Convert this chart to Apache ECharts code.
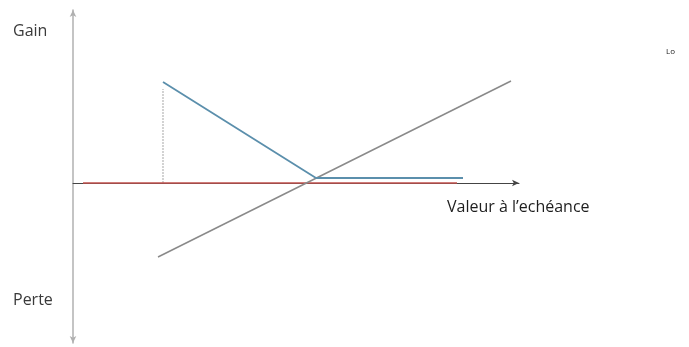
<!DOCTYPE html>
<html><head><meta charset="utf-8">
<script src="https://cdn.jsdelivr.net/npm/echarts@6/dist/echarts.min.js"></script>
<style>html,body{margin:0;padding:0;background:#fff}#c{width:689px;height:347px}</style>
</head><body><div id="c"></div>
<script>
// Schematic payoff diagram (values in abstract units)
var xRange = [0, 446];
var yRange = [-160, 173];
var zeroLineX = [10, 384];
var zeroLineY = [0, 0];
var payoffAX = [90, 243, 390];
var payoffAY = [101, 5, 5];
var payoffBX = [85, 438];
var payoffBY = [-74, 102];
var guideX = [90, 90];
var guideY = [0, 94];
var labels = { gain: 'Gain', loss: 'Perte', xName: 'Valeur à l’echéance', legend: 'Lo' };

function pts(xs, ys) { return xs.map(function (x, i) { return [x, ys[i]]; }); }

var chart = echarts.init(document.getElementById('c'), null, { renderer: 'canvas' });
var font = '"Open Sans", "Noto Sans", sans-serif';
chart.setOption({
  animation: false,
  grid: { left: 73, right: 170, top: 10, bottom: 4, containLabel: false },
  xAxis: {
    type: 'value', min: xRange[0], max: xRange[1],
    axisLine: { show: true, onZero: true, symbol: ['none', 'arrow'], symbolSize: [5, 7],
      lineStyle: { color: '#444', width: 1 } },
    axisTick: { show: false }, axisLabel: { show: false }, splitLine: { show: false }
  },
  yAxis: {
    type: 'value', min: yRange[0], max: yRange[1],
    axisLine: { show: true, onZero: false, symbol: ['arrow', 'arrow'], symbolSize: [5, 7],
      lineStyle: { color: '#b0b0b0', width: 1.5 } },
    axisTick: { show: false }, axisLabel: { show: false }, splitLine: { show: false }
  },
  series: [
    { type: 'line', data: pts(guideX, guideY), symbol: 'none', silent: true,
      lineStyle: { color: '#b5b5b5', width: 1.2, type: [2, 1] }, z: 2 },
    { type: 'line', data: pts(zeroLineX, zeroLineY), symbol: 'none',
      lineStyle: { color: '#c0504d', width: 1.5 }, z: 3 },
    { type: 'line', data: pts(payoffBX, payoffBY), symbol: 'none',
      lineStyle: { color: '#8a8a8a', width: 1.5 }, z: 4 },
    { type: 'line', data: pts(payoffAX, payoffAY), symbol: 'none',
      lineStyle: { color: '#5b8fac', width: 1.8 }, z: 5 }
  ],
  graphic: [
    { type: 'text', left: 13, top: 23, style: { text: labels.gain, font: '16px ' + font, fill: '#3a3a3a' } },
    { type: 'text', left: 13, top: 292, style: { text: labels.loss, font: '16px ' + font, fill: '#3a3a3a' } },
    { type: 'text', left: 447, top: 199, style: { text: labels.xName, font: '16px ' + font, fill: '#1e1e1e' } },
    { type: 'text', left: 666, top: 48, style: { text: labels.legend, font: '8px ' + font, fill: '#222' } }
  ]
});
</script></body></html>
